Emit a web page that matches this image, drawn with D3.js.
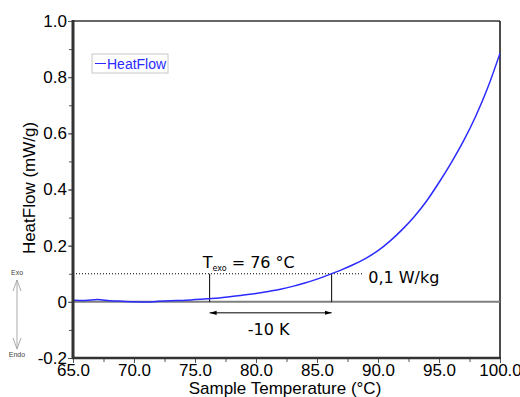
<!DOCTYPE html>
<html>
<head>
<meta charset="utf-8">
<script src="https://cdn.jsdelivr.net/npm/d3@7"></script>
<style>
  body { margin: 0; background: #fff; }
  svg { display: block; }
</style>
</head>
<body>
<div id="chart"></div>
<script>
// sample temperature (°C) and heat flow (mW/g)
const temps = [65, 66, 67, 68, 69, 70, 71, 72, 73, 74, 75, 76, 77, 78, 79, 80, 81, 82,
  83, 84, 85, 86, 87, 88, 89, 90, 91, 92, 93, 94, 95, 96, 97, 98, 99, 100];
const heatFlow = [0.006, 0.005, 0.008, 0.004, 0.002, 0.000, -0.001, 0.002, 0.004, 0.005,
  0.008, 0.011, 0.014, 0.019, 0.024, 0.030, 0.037, 0.045, 0.055, 0.067, 0.081, 0.097,
  0.114, 0.133, 0.155, 0.182, 0.217, 0.258, 0.305, 0.360, 0.425, 0.495, 0.572, 0.660,
  0.763, 0.885];
const xTicks = [65, 70, 75, 80, 85, 90, 95, 100];
const yTicks = [-0.2, 0, 0.2, 0.4, 0.6, 0.8, 1.0];
const yTickLabels = ["-0.2", "0", "0.2", "0.4", "0.6", "0.8", "1.0"];
const threshold = 0.1;     // 0,1 W/kg
const tExo = 76.2;
const tCross = 86.2;

const W = 520, H = 397;
const margin = {left: 73, right: 20, top: 21, bottom: 39};

const svg = d3.select("#chart").append("svg")
  .attr("width", W).attr("height", H);

const x = d3.scaleLinear().domain([65, 100]).range([margin.left, W - margin.right]);
const y = d3.scaleLinear().domain([-0.2, 1.0]).range([H - margin.bottom, margin.top]);

const tickFont = "Liberation Sans, Arial, sans-serif";
const annoFont = "DejaVu Sans, Verdana, sans-serif";

// axes with minor ticks
const xMinor = d3.range(65, 100.01, 2.5);
const yMinor = d3.range(-0.2, 1.001, 0.1);

svg.append("g")
  .attr("transform", "translate(0," + y(-0.2) + ")")
  .call(d3.axisBottom(x).tickValues(xMinor).tickSize(4).tickFormat(""))
  .call(g => g.select(".domain").remove())
  .selectAll("line").attr("stroke", "#555");

svg.append("g")
  .attr("transform", "translate(0," + y(-0.2) + ")")
  .call(d3.axisBottom(x).tickValues(xTicks).tickSize(5).tickPadding(1).tickFormat(d3.format(".1f")))
  .call(g => g.select(".domain").remove())
  .call(g => g.selectAll("line").attr("stroke", "#555"))
  .selectAll("text")
  .attr("font-family", tickFont)
  .attr("font-size", 17)
  .attr("fill", "#000");

svg.append("g")
  .attr("transform", "translate(" + x(65) + ",0)")
  .call(d3.axisLeft(y).tickValues(yMinor).tickSize(4).tickFormat(""))
  .call(g => g.select(".domain").remove())
  .selectAll("line").attr("stroke", "#555");

svg.append("g")
  .attr("transform", "translate(" + x(65) + ",0)")
  .call(d3.axisLeft(y).tickValues(yTicks).tickSize(5).tickPadding(1)
    .tickFormat((d, i) => yTickLabels[i]))
  .call(g => g.select(".domain").remove())
  .call(g => g.selectAll("line").attr("stroke", "#555"))
  .selectAll("text")
  .attr("font-family", tickFont)
  .attr("font-size", 17)
  .attr("fill", "#000");

// frame
svg.append("line")
  .attr("x1", x(65)).attr("x2", x(100)).attr("y1", y(1.0)).attr("y2", y(1.0))
  .attr("stroke", "#333").attr("stroke-width", 1.5);
svg.append("line")
  .attr("x1", x(100)).attr("x2", x(100)).attr("y1", y(1.0)).attr("y2", y(-0.2))
  .attr("stroke", "#111").attr("stroke-width", 1.5);

// zero line
svg.append("line")
  .attr("x1", x(65)).attr("x2", x(100)).attr("y1", y(0)).attr("y2", y(0))
  .attr("stroke", "#7f7f7f").attr("stroke-width", 2);

// threshold dotted line
svg.append("line")
  .attr("x1", x(65)).attr("x2", x(88.8)).attr("y1", y(threshold)).attr("y2", y(threshold))
  .attr("stroke", "#000").attr("stroke-width", 1).attr("stroke-dasharray", "1,2");

// vertical markers
[tExo, tCross].forEach(t => {
  svg.append("line")
    .attr("x1", x(t)).attr("x2", x(t)).attr("y1", y(0)).attr("y2", y(threshold))
    .attr("stroke", "#000").attr("stroke-width", 1);
});

// curve
const data = temps.map((t, i) => ({t: t, v: heatFlow[i]}));
const line = d3.line()
  .x(d => x(d.t))
  .y(d => y(d.v))
  .curve(d3.curveMonotoneX);

svg.append("path")
  .datum(data)
  .attr("d", line)
  .attr("fill", "none")
  .attr("stroke", "#2b2bff")
  .attr("stroke-width", 1.5);

// axes lines (thick, drawn on top)
svg.append("line")
  .attr("x1", x(65)).attr("x2", x(65)).attr("y1", y(1.0) - 1).attr("y2", y(-0.2) + 1)
  .attr("stroke", "#333").attr("stroke-width", 3);
svg.append("line")
  .attr("x1", x(65) - 1).attr("x2", x(100) + 1).attr("y1", y(-0.2)).attr("y2", y(-0.2))
  .attr("stroke", "#333").attr("stroke-width", 2.5);

// double arrow -10 K
const defs = svg.append("defs");
defs.append("marker")
  .attr("id", "ah").attr("viewBox", "0 0 10 10")
  .attr("refX", 10).attr("refY", 5)
  .attr("markerWidth", 7).attr("markerHeight", 7)
  .attr("orient", "auto-start-reverse")
  .append("path").attr("d", "M0,2 L10,5 L0,8 Z").attr("fill", "#000");

const arrowY = y(0) + 11;
svg.append("line")
  .attr("x1", x(tExo)).attr("x2", x(tCross)).attr("y1", arrowY).attr("y2", arrowY)
  .attr("stroke", "#000").attr("stroke-width", 1)
  .attr("marker-start", "url(#ah)").attr("marker-end", "url(#ah)");

svg.append("text")
  .attr("x", (x(tExo) + x(tCross)) / 2 - 2).attr("y", arrowY + 22)
  .attr("text-anchor", "middle")
  .attr("font-family", annoFont).attr("font-size", 16)
  .text("-10 K");

const tLabel = svg.append("text")
  .attr("x", x(tExo) - 7).attr("y", y(threshold) - 6)
  .attr("font-family", annoFont).attr("font-size", 16);
tLabel.append("tspan").text("T");
tLabel.append("tspan").attr("font-size", 8).attr("dy", 3).text("exo");
tLabel.append("tspan").attr("dy", -3).text(" = 76 °C");

svg.append("text")
  .attr("x", x(89.2)).attr("y", y(threshold) + 9)
  .attr("font-family", annoFont).attr("font-size", 16)
  .text("0,1 W/kg");

// legend
const lg = svg.append("g").attr("transform", "translate(92,54)");
lg.append("rect")
  .attr("width", 76).attr("height", 19)
  .attr("fill", "#fff").attr("stroke", "#c8c8c8");
lg.append("line")
  .attr("x1", 3).attr("x2", 14).attr("y1", 9.5).attr("y2", 9.5)
  .attr("stroke", "#2b2bff").attr("stroke-width", 1);
lg.append("text")
  .attr("x", 15).attr("y", 15)
  .attr("font-family", tickFont).attr("font-size", 14)
  .attr("fill", "#2b2bff")
  .text("HeatFlow");

// axis titles
svg.append("text")
  .attr("transform", "translate(35,188) rotate(-90)")
  .attr("text-anchor", "middle")
  .attr("font-family", tickFont).attr("font-size", 17)
  .text("HeatFlow (mW/g)");

svg.append("text")
  .attr("x", 285).attr("y", 394)
  .attr("text-anchor", "middle")
  .attr("font-family", tickFont).attr("font-size", 17)
  .text("Sample Temperature (°C)");

// exo / endo indicator
const ex = 17;
svg.append("line")
  .attr("x1", ex).attr("x2", ex).attr("y1", 280).attr("y2", 349)
  .attr("stroke", "#aaa").attr("stroke-width", 1);
svg.append("path")
  .attr("d", `M${ex - 4},291 L${ex},280 L${ex + 4},291 M${ex - 4},338 L${ex},349 L${ex + 4},338`)
  .attr("fill", "none").attr("stroke", "#aaa").attr("stroke-width", 1);
svg.append("text")
  .attr("x", ex).attr("y", 275).attr("text-anchor", "middle")
  .attr("font-family", tickFont).attr("font-size", 7)
  .attr("fill", "#444").text("Exo");
svg.append("text")
  .attr("x", ex).attr("y", 357).attr("text-anchor", "middle")
  .attr("font-family", tickFont).attr("font-size", 7)
  .attr("fill", "#444").text("Endo");
</script>
</body>
</html>
